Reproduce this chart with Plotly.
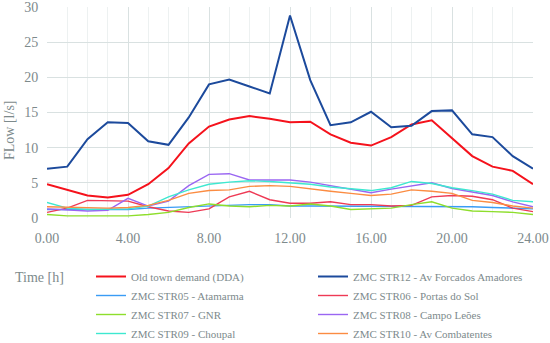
import plotly.graph_objects as go

hours = list(range(25))
x_tick_vals = [0, 4, 8, 12, 16, 20, 24]
x_tick_text = ["0.00", "4.00", "8.00", "12.00", "16.00", "20.00", "24.00"]
y_tick_vals = [0, 5, 10, 15, 20, 25, 30]

names = [
    "Old town demand (DDA)",
    "ZMC STR12 - Av Forcados Amadores",
    "ZMC STR05 - Atamarma",
    "ZMC STR06 - Portas do Sol",
    "ZMC STR07 - GNR",
    "ZMC STR08 - Campo Leões",
    "ZMC STR09 - Choupal",
    "ZMC STR10 - Av Combatentes",
]

dda = [4.8, 4.0, 3.2, 2.9, 3.3, 4.8, 7.1, 10.6, 13.0, 14.0, 14.5, 14.1, 13.6, 13.7, 11.9, 10.7, 10.3, 11.5, 13.3, 13.9, 11.3, 8.8, 7.3, 6.7, 4.8]
str12 = [7.0, 7.3, 11.2, 13.6, 13.5, 10.9, 10.4, 14.3, 19.0, 19.7, 18.7, 17.7, 28.8, 19.6, 13.2, 13.6, 15.1, 12.9, 13.1, 15.2, 15.3, 11.9, 11.5, 8.8, 7.0]
str05 = [1.2, 1.2, 1.2, 1.2, 1.2, 1.4, 1.5, 1.6, 1.8, 1.9, 1.9, 1.9, 1.7, 1.7, 1.7, 1.6, 1.7, 1.7, 1.7, 1.7, 1.7, 1.6, 1.5, 1.4, 1.3]
str06 = [0.8, 1.4, 2.5, 2.5, 2.4, 1.6, 1.0, 0.8, 1.3, 3.0, 3.8, 2.6, 2.1, 2.1, 2.3, 1.9, 1.9, 1.7, 1.8, 3.0, 3.2, 3.1, 2.6, 1.4, 0.9]
str07 = [0.5, 0.3, 0.3, 0.3, 0.3, 0.5, 0.8, 1.5, 2.0, 1.7, 1.6, 1.8, 1.7, 2.0, 1.7, 1.2, 1.3, 1.4, 1.9, 2.3, 1.4, 1.0, 0.9, 0.8, 0.5]
str08 = [1.3, 1.1, 1.0, 1.1, 2.8, 1.7, 2.4, 4.6, 6.2, 6.3, 5.4, 5.4, 5.4, 5.1, 4.6, 4.2, 3.6, 4.1, 4.5, 5.0, 4.2, 3.7, 3.2, 2.3, 1.6]
str09 = [2.2, 1.4, 1.2, 1.2, 1.3, 1.7, 3.0, 4.0, 4.8, 5.1, 5.3, 5.2, 5.0, 4.8, 4.4, 4.1, 3.9, 4.3, 5.2, 4.9, 4.3, 3.9, 3.4, 2.5, 2.3]
str10 = [1.6, 1.5, 1.5, 1.4, 1.5, 1.8, 2.5, 3.5, 3.9, 4.0, 4.5, 4.6, 4.5, 4.1, 3.8, 3.5, 3.2, 3.4, 4.0, 3.8, 3.5, 2.5, 2.2, 1.7, 1.4]

series = [dda, str12, str05, str06, str07, str08, str09, str10]
colors = ["#f5121c", "#1c4a9c", "#3a9cf5", "#ee3a55", "#8ede2c", "#9a66f2", "#3ee8d0", "#fb8c42"]
widths = [2, 2, 1.4, 1.4, 1.4, 1.4, 1.4, 1.4]

# plot area in pixels
L, R, T, B = 47, 533, 7, 218
PW, PH = R - L, B - T

def px_x(p):
    return (p - L) / PW

def px_y(p):
    return (B - p) / PH

fig = go.Figure()
for i, (n, s, c, w) in enumerate(zip(names, series, colors, widths)):
    fig.add_trace(go.Scatter(x=hours, y=s, mode="lines", name=n,
                             line=dict(color=c, width=w),
                             legend="legend" if i % 2 == 0 else "legend2"))

font_family = "Liberation Serif"
gray = "#7d8a8c"
leg_common = dict(orientation="v", yanchor="top", xanchor="left",
                  font=dict(size=11, color=gray, family=font_family),
                  tracegroupgap=0, itemwidth=30, bgcolor="rgba(0,0,0,0)")

fig.update_layout(
    width=550, height=343,
    margin=dict(l=L, r=550 - R, t=T, b=343 - B, autoexpand=False),
    paper_bgcolor="white", plot_bgcolor="white",
    font=dict(family=font_family, size=14, color=gray),
    showlegend=True,
    legend=dict(x=px_x(91), y=px_y(262), **leg_common),
    legend2=dict(x=px_x(313), y=px_y(262), **leg_common),
    xaxis=dict(range=[0, 24], tickvals=x_tick_vals, ticktext=x_tick_text,
               showgrid=True, gridcolor="#d9e1e1", gridwidth=1,
               minor=dict(dtick=1, showgrid=True, gridcolor="#edf1f1", gridwidth=1),
               zeroline=False, showline=False, ticks="outside", ticklen=7,
               tickcolor="rgba(0,0,0,0)", ticklabeloverflow="allow",
               tickfont=dict(size=14, color=gray)),
    yaxis=dict(range=[0, 30], tickvals=y_tick_vals, showgrid=True,
               gridcolor="#d9e1e1", gridwidth=1, zeroline=False, showline=False,
               ticks="outside", ticklen=5, tickcolor="rgba(0,0,0,0)",
               ticklabeloverflow="allow", tickfont=dict(size=14, color=gray)),
)
fig.add_annotation(text="FLow [l/s]", xref="paper", yref="paper",
                   x=px_x(9), y=px_y(130), textangle=-90, xanchor="center", yanchor="middle",
                   showarrow=False, font=dict(size=14, color=gray))
fig.add_annotation(text="Time [h]", xref="paper", yref="paper",
                   x=px_x(13), y=px_y(277), xanchor="left", yanchor="middle",
                   showarrow=False, font=dict(size=14, color=gray))

fig.write_html("out.html", config={"displayModeBar": False},
               post_script="document.body.style.margin='0';document.body.style.overflow='hidden';")
